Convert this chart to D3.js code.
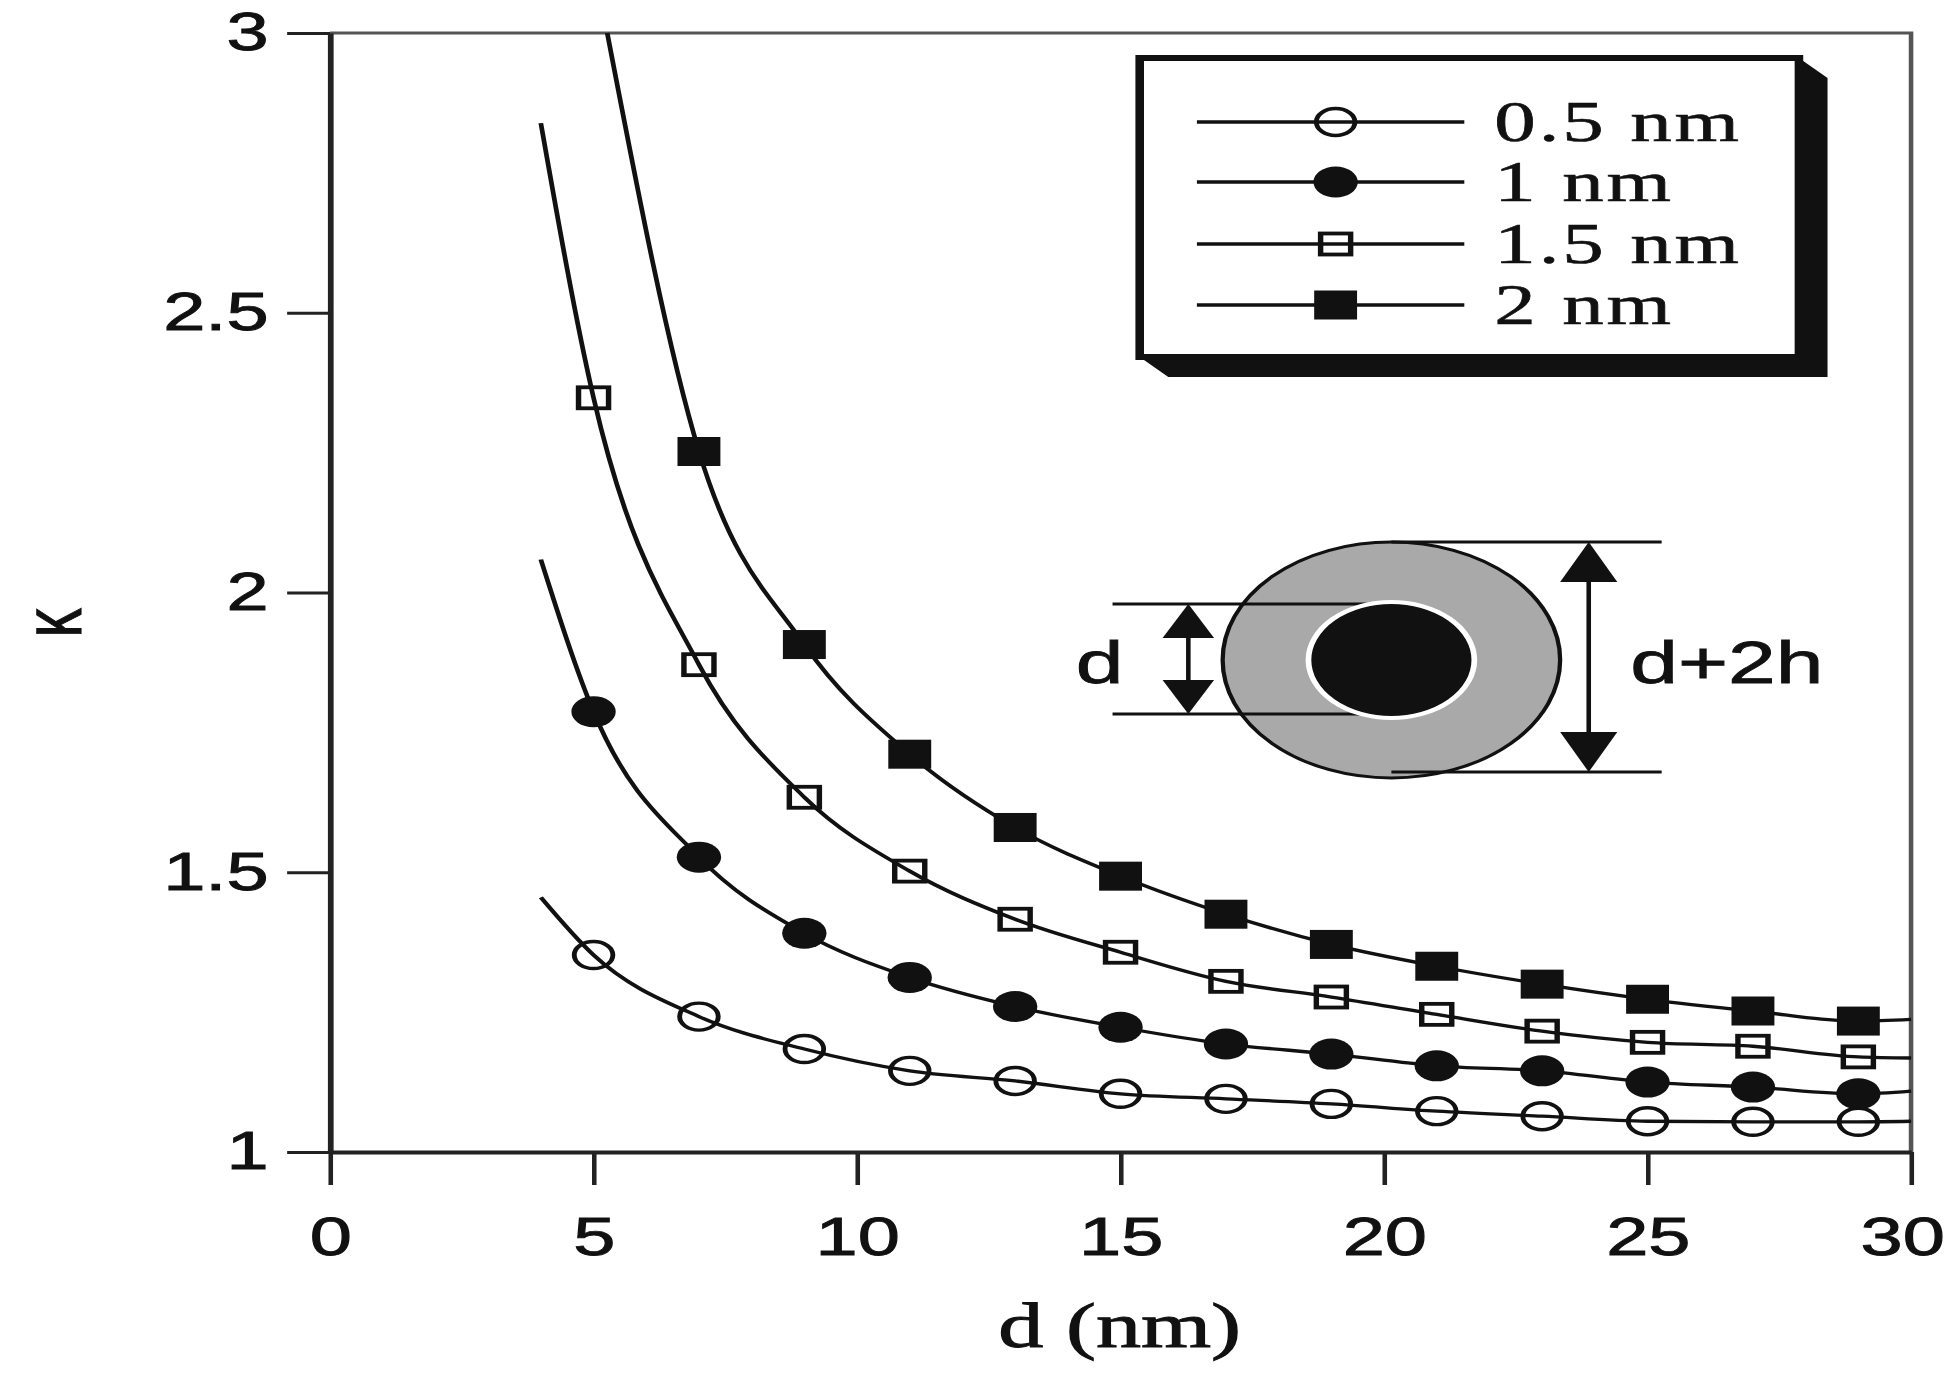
<!DOCTYPE html>
<html>
<head>
<meta charset="utf-8">
<script src="https://cdn.jsdelivr.net/npm/d3@7"></script>
<style>
html, body { margin: 0; padding: 0; background: #fff; }
svg { display: block; }
</style>
</head>
<body>
<svg id="chart" width="1952" height="1381"></svg>
<script>
// values (kappa vs d for four shell thicknesses)
const dMarks = [5, 7, 9, 11, 13, 15, 17, 19, 21, 23, 25, 27, 29];
const k05 = [1.352, 1.242, 1.184, 1.145, 1.127, 1.104, 1.095, 1.086, 1.073, 1.064, 1.055, 1.054, 1.054];
const k10 = [1.787, 1.527, 1.391, 1.312, 1.260, 1.223, 1.193, 1.175, 1.154, 1.145, 1.125, 1.116, 1.104];
const k15 = [2.348, 1.871, 1.634, 1.502, 1.416, 1.357, 1.305, 1.277, 1.246, 1.216, 1.196, 1.189, 1.170];
const k20 = [null, 2.252, 1.907, 1.711, 1.580, 1.493, 1.425, 1.371, 1.332, 1.300, 1.273, 1.252, 1.234];

// the drawn curves run a bit past the markers
const curveStartD = [4, 4, 4, 5.26];
const curveStartK = [1.455, 2.059, 2.839, 3.0];
const curveEndD = 30;
const curveEndK = [1.055, 1.109, 1.168, 1.237];

const seriesNames = ["0.5 nm", "1 nm", "1.5 nm", "2 nm"];
const xTicks = [0, 5, 10, 15, 20, 25, 30];
const yTicks = [1, 1.5, 2, 2.5, 3];

// the original figure is stretched sideways, so everything is drawn in a squeezed space
const SX = 1.43;
const plot = {left: 230.8, right: 1336.4, top: 33, bottom: 1152};
const sans = "'Liberation Sans', Arial, Helvetica, sans-serif";
const serif = "'Liberation Serif', 'Times New Roman', serif";
const ink = "#111";

const svg = d3.select("#chart");
const g = svg.append("g").attr("transform", `scale(${SX},1)`);

const x = d3.scaleLinear().domain([0, 30]).range([plot.left, plot.right]);
const y = d3.scaleLinear().domain([1, 3]).range([plot.bottom, plot.top]);

// frame top and right
g.append("path")
  .attr("d", `M${plot.left},${plot.top}H${plot.right}V${plot.bottom}`)
  .attr("fill", "none").attr("stroke", "#555").attr("stroke-width", 3.2);

// axes
const xAxis = g.append("g")
  .attr("transform", `translate(0,${plot.bottom})`)
  .call(d3.axisBottom(x).tickValues(xTicks).tickSize(33).tickPadding(32).tickSizeOuter(0));
const yAxis = g.append("g")
  .attr("transform", `translate(${plot.left},0)`)
  .call(d3.axisLeft(y).tickValues(yTicks).tickSize(30).tickPadding(13).tickSizeOuter(0)
    .tickFormat(d => String(d)));

[xAxis, yAxis].forEach(a => {
  a.select(".domain").attr("stroke", "#222").attr("stroke-width", 4);
  a.selectAll(".tick line").attr("stroke", "#222").attr("stroke-width", 3.2);
  a.selectAll(".tick text").attr("fill", ink)
    .attr("stroke", ink).attr("stroke-width", 0.9)
    .style("font-family", sans).style("font-size", "53px");
});
// last x label sits against the page edge
xAxis.selectAll(".tick text").filter(d => d === 30).attr("dx", "-0.12em");

// axis titles
g.append("text")
  .attr("transform", "translate(36,623) rotate(-90)")
  .attr("text-anchor", "middle").attr("dy", "0.35em")
  .style("font-family", sans).style("font-size", "58px").attr("fill", ink)
  .attr("stroke", ink).attr("stroke-width", 0.8)
  .text("κ");
g.append("text")
  .attr("x", 783).attr("y", 1347)
  .attr("text-anchor", "middle")
  .style("font-family", serif).style("font-size", "63px").attr("fill", ink)
  .attr("stroke", ink).attr("stroke-width", 1)
  .text("d (nm)");

// series
const kSeries = [k05, k10, k15, k20];
const shapes = ["circleOpen", "circleFilled", "squareOpen", "squareFilled"];

const series = kSeries.map((ks, i) => {
  const pts = dMarks.map((d, j) => ({d: d, k: ks[j]})).filter(p => p.k != null);
  const curve = [{d: curveStartD[i], k: curveStartK[i]}].concat(pts, [{d: curveEndD, k: curveEndK[i]}]);
  return {name: seriesNames[i], shape: shapes[i], pts: pts, curve: curve};
});

const line = d3.line()
  .x(p => x(p.d))
  .y(p => y(p.k))
  .curve(d3.curveMonotoneX);

function marker(sel, shape) {
  if (shape === "circleOpen") {
    sel.append("circle").attr("r", 13.5)
      .attr("fill", "none").attr("stroke", ink).attr("stroke-width", 3.4);
  } else if (shape === "circleFilled") {
    sel.append("circle").attr("r", 15.5).attr("fill", ink);
  } else if (shape === "squareOpen") {
    sel.append("rect").attr("x", -10.5).attr("y", -10.5).attr("width", 21).attr("height", 21)
      .attr("fill", "none").attr("stroke", ink).attr("stroke-width", 3.8);
  } else {
    sel.append("rect").attr("x", -15).attr("y", -14.5).attr("width", 30).attr("height", 29)
      .attr("fill", ink);
  }
}

const sg = g.append("g").selectAll("g.series")
  .data(series).enter().append("g").attr("class", "series");

sg.append("path")
  .attr("d", s => line(s.curve))
  .attr("fill", "none").attr("stroke", ink).attr("stroke-width", 3.3);

sg.each(function(s) {
  d3.select(this).selectAll("g.pt")
    .data(s.pts).enter().append("g").attr("class", "pt")
    .attr("transform", p => `translate(${x(p.d)},${y(p.k)})`)
    .each(function() { marker(d3.select(this), s.shape); });
});

// legend box with its 3d shadow
const lg = {l: 797, t: 58, r: 1258, b: 357, dx: 20, dy: 20};
g.append("path")
  .attr("d", `M${lg.r},${lg.t}L${lg.r + lg.dx},${lg.t + lg.dy}V${lg.b + lg.dy}H${lg.l + lg.dx}L${lg.l},${lg.b}Z`)
  .attr("fill", ink);
g.append("rect")
  .attr("x", lg.l).attr("y", lg.t).attr("width", lg.r - lg.l).attr("height", lg.b - lg.t)
  .attr("fill", "#fff").attr("stroke", ink).attr("stroke-width", 6);

const rowY = [122, 182, 244, 305];
const lr = g.append("g").selectAll("g.row")
  .data(series).enter().append("g").attr("class", "row")
  .attr("transform", (s, i) => `translate(0,${rowY[i]})`);
lr.append("line").attr("x1", 837).attr("x2", 1024)
  .attr("stroke", ink).attr("stroke-width", 3.3);
lr.append("g").attr("transform", "translate(934,0)")
  .each(function(s) { marker(d3.select(this), s.shape); });
lr.append("text")
  .attr("x", 1045).attr("dy", "0.33em")
  .style("font-family", serif).style("font-size", "58px").style("letter-spacing", "2px")
  .attr("fill", ink).attr("stroke", ink).attr("stroke-width", 0.6)
  .text(s => s.name);

// schematic of the coated wire
const cx = 973, cy = 660, rOut = 118, rIn = 58;
const sch = g.append("g");
sch.append("circle").attr("cx", cx).attr("cy", cy).attr("r", rOut)
  .attr("fill", "#a9a9a9").attr("stroke", ink).attr("stroke-width", 3);
[cy - 56, cy + 54].forEach(yy => {
  sch.append("line").attr("x1", 778).attr("x2", cx).attr("y1", yy).attr("y2", yy)
    .attr("stroke", ink).attr("stroke-width", 3.2);
});
[cy - rOut, cy + rOut - 6].forEach(yy => {
  sch.append("line").attr("x1", cx).attr("x2", 1162).attr("y1", yy).attr("y2", yy)
    .attr("stroke", ink).attr("stroke-width", 3.2);
});
sch.append("circle").attr("cx", cx).attr("cy", cy).attr("r", rIn)
  .attr("fill", ink).attr("stroke", "#fff").attr("stroke-width", 4);

function dimArrow(ax, y1, y2, hw, hh) {
  sch.append("line").attr("x1", ax).attr("x2", ax).attr("y1", y1 + hh - 2).attr("y2", y2 - hh + 2)
    .attr("stroke", ink).attr("stroke-width", 3.2);
  sch.append("path").attr("d", `M${ax},${y1}L${ax - hw},${y1 + hh}H${ax + hw}Z`).attr("fill", ink);
  sch.append("path").attr("d", `M${ax},${y2}L${ax - hw},${y2 - hh}H${ax + hw}Z`).attr("fill", ink);
}
dimArrow(831, cy - 56, cy + 54, 18, 34);
dimArrow(1111, cy - rOut, cy + rOut - 6, 20, 40);

sch.append("text").attr("x", 769).attr("y", 683).attr("text-anchor", "middle")
  .attr("stroke", ink).attr("stroke-width", 0.8)
  .style("font-family", sans).style("font-size", "60px").attr("fill", ink).text("d");
sch.append("text").attr("x", 1140).attr("y", 683)
  .attr("stroke", ink).attr("stroke-width", 0.8)
  .style("font-family", sans).style("font-size", "60px").attr("fill", ink).text("d+2h");
</script>
</body>
</html>
